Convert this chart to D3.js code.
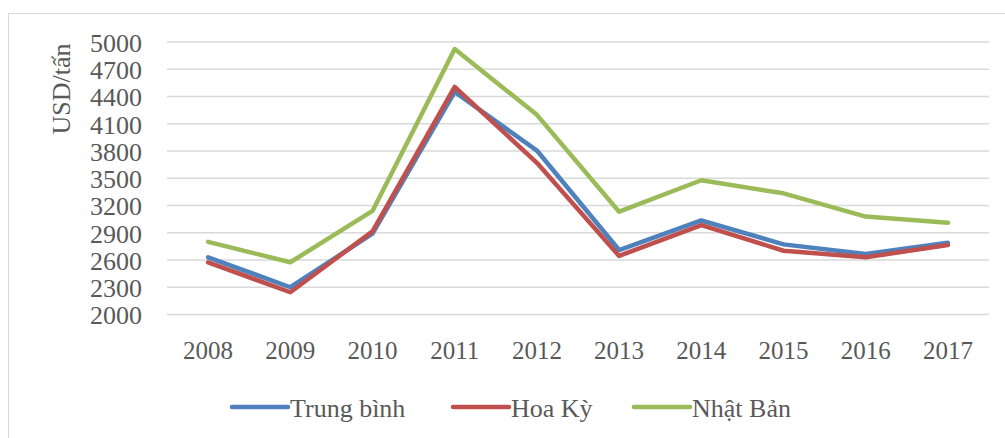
<!DOCTYPE html>
<html>
<head>
<meta charset="utf-8">
<script src="https://cdn.jsdelivr.net/npm/d3@7"></script>
<style>
  html, body { margin: 0; padding: 0; background: #fff; }
  svg { display: block; }
  text { font-family: "Liberation Serif", "Times New Roman", "Liberation Sans", sans-serif; fill: #595959; }
</style>
</head>
<body>
<svg id="chart" width="1005" height="438"></svg>
<script>
// Years on the category axis
const years = ["2008", "2009", "2010", "2011", "2012", "2013", "2014", "2015", "2016", "2017"];

// Price series (USD/tấn)
const trungBinh = [2630, 2300, 2890, 4450, 3805, 2710, 3035, 2772, 2665, 2790];
const hoaKy     = [2575, 2245, 2915, 4505, 3670, 2645, 2985, 2702, 2630, 2765];
const nhatBan   = [2800, 2575, 3140, 4922, 4198, 3132, 3478, 3334, 3078, 3010];

// Value axis ticks
const yTicks = [2000, 2300, 2600, 2900, 3200, 3500, 3800, 4100, 4400, 4700, 5000];

const seriesNames = ["Trung bình", "Hoa Kỳ", "Nhật Bản"];
const seriesData = [trungBinh, hoaKy, nhatBan];
const seriesColors = ["#4F81BD", "#C0504D", "#9BBB59"];

const fontStack = "'Liberation Serif', 'Times New Roman', 'Liberation Sans', sans-serif";

const svg = d3.select("#chart");

// Outer chart frame
svg.append("rect")
  .attr("x", 8.5).attr("y", 13.5)
  .attr("width", 1100).attr("height", 600)
  .attr("fill", "none")
  .attr("stroke", "#D9D9D9")
  .attr("stroke-width", 1);

const plot = { left: 167, right: 989, top: 42, bottom: 314.5 };

const x = d3.scaleBand()
  .domain(years)
  .range([plot.left, plot.right]);

const y = d3.scaleLinear()
  .domain([2000, 5000])
  .range([plot.bottom, plot.top]);

// Horizontal gridlines
svg.append("g")
  .selectAll("line")
  .data(yTicks)
  .join("line")
  .attr("x1", plot.left).attr("x2", plot.right)
  .attr("y1", d => y(d)).attr("y2", d => y(d))
  .attr("stroke", "#D9D9D9")
  .attr("stroke-width", 1.5);

// Y tick labels
const yAxis = d3.axisLeft(y).tickValues(yTicks).tickFormat(d3.format("d")).tickSize(0).tickPadding(0);
const gy = svg.append("g")
  .attr("transform", `translate(142,0)`)
  .call(yAxis)
  .attr("font-family", fontStack)
  .attr("font-size", 26);
gy.select(".domain").remove();
gy.selectAll("text")
  .attr("fill", "#595959")
  .attr("dy", "0.36em");

// X tick labels
const xAxis = d3.axisBottom(x).tickSize(0).tickPadding(0);
const gx = svg.append("g")
  .attr("transform", `translate(0,359)`)
  .call(xAxis)
  .attr("font-family", fontStack)
  .attr("font-size", 25);
gx.select(".domain").remove();
gx.selectAll("text")
  .attr("fill", "#595959")
  .attr("dy", 0);

// Y axis title
svg.append("text")
  .attr("transform", "translate(70,89) rotate(-90)")
  .attr("text-anchor", "middle")
  .style("font-size", "26px")
  .text("USD/tấn");

// Series lines
const line = d3.line()
  .x((d, i) => x(years[i]) + x.bandwidth() / 2)
  .y(d => y(d));

svg.append("g")
  .selectAll("path")
  .data(seriesData)
  .join("path")
  .attr("d", d => line(d))
  .attr("fill", "none")
  .attr("stroke", (d, i) => seriesColors[i])
  .attr("stroke-width", 4.5)
  .attr("stroke-linejoin", "round")
  .attr("stroke-linecap", "round");

// Legend
const legendX = [232, 453, 634];
const legend = svg.append("g")
  .selectAll("g")
  .data(seriesNames)
  .join("g")
  .attr("transform", (d, i) => `translate(${legendX[i]},407)`);

legend.append("line")
  .attr("x1", 0).attr("x2", 56)
  .attr("y1", 0).attr("y2", 0)
  .attr("stroke", (d, i) => seriesColors[i])
  .attr("stroke-width", 4.5)
  .attr("stroke-linecap", "round");

legend.append("text")
  .attr("x", 58)
  .attr("y", 10)
  .style("font-size", "26px")
  .text(d => d);
</script>
</body>
</html>
